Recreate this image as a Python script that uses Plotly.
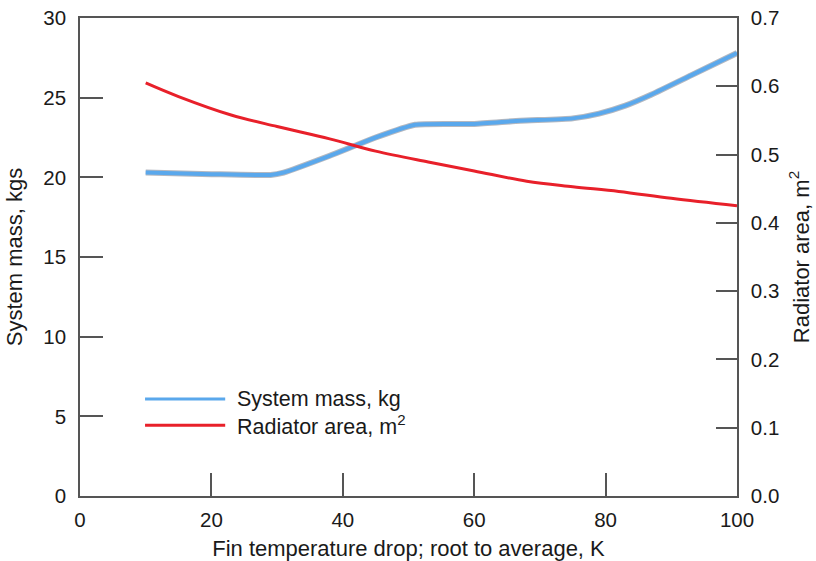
import plotly.graph_objects as go

mass_x = [10, 20, 29, 31, 38, 45, 51, 60, 67, 75, 79, 83, 87, 93, 100]
mass_y = [20.3, 20.2, 20.15, 20.3, 21.35, 22.5, 23.3, 23.35, 23.55, 23.7, 24.0, 24.5, 25.2, 26.4, 27.8]

area_x = [10, 15, 23, 30, 38, 45, 53, 60, 68, 75, 82, 90, 100]
area_y = [0.605, 0.585, 0.558, 0.541, 0.523, 0.505, 0.489, 0.476, 0.461, 0.453, 0.446, 0.436, 0.425]

x_ticks = [0, 20, 40, 60, 80, 100]
left_ticks = [0, 5, 10, 15, 20, 25, 30]
right_ticks = [0.0, 0.1, 0.2, 0.3, 0.4, 0.5, 0.6, 0.7]

FONT = "Liberation Sans, Arial, sans-serif"
AX = "#555555"
BLUE = "#5aa8ec"
RED = "#e8202a"
TXT = "#1a1a1a"
TICKFONT = dict(family=FONT, size=20.5, color=TXT)
TITLEFONT = dict(family=FONT, size=22, color=TXT)

fig = go.Figure()
fig.add_trace(go.Scatter(x=mass_x, y=mass_y, mode="lines", line=dict(color="#b4b8c0", width=6, shape="spline", smoothing=0.5),
                         showlegend=False, hoverinfo="skip"))
fig.add_trace(go.Scatter(x=mass_x, y=mass_y, mode="lines", line=dict(color=BLUE, width=4, shape="spline", smoothing=0.5),
                         name="System mass, kg", showlegend=False))
fig.add_trace(go.Scatter(x=area_x, y=area_y, mode="lines", line=dict(color=RED, width=3, shape="spline", smoothing=1),
                         name="Radiator area, m<sup>2</sup>", yaxis="y2", showlegend=False))

# custom legend
legend_items = [("System mass, kg", BLUE, 0.203), ("Radiator area, m<sup>2</sup>", RED, 0.148)]
for label, col, yy in legend_items:
    fig.add_shape(type="line", xref="paper", yref="paper", x0=0.099, x1=0.221, y0=yy, y1=yy,
                  line=dict(color=col, width=3))
    fig.add_annotation(xref="paper", yref="paper", x=0.236, y=yy, text=label, showarrow=False,
                       xanchor="left", yanchor="middle", font=dict(size=21.5, color=TXT, family=FONT))

fig.update_layout(
    width=816, height=561,
    margin=dict(l=80, r=79, t=18, b=65),
    paper_bgcolor="white", plot_bgcolor="white",
    font=dict(family=FONT, size=20, color=TXT),
    xaxis=dict(range=[0, 100], tickvals=x_ticks, ticks="inside", ticklen=23, tickcolor=AX, tickwidth=1.5,
               tickfont=TICKFONT, ticklabelstandoff=5, automargin=False,
               showline=True, linecolor=AX, linewidth=1.5, mirror=True, showgrid=False, zeroline=False,
               title=dict(text="Fin temperature drop; root to average, K", font=TITLEFONT)),
    yaxis=dict(range=[0, 30], tickvals=left_ticks, ticks="inside", ticklen=23, tickcolor=AX, tickwidth=1.5,
               tickfont=TICKFONT, ticklabelstandoff=8, automargin=False,
               showline=True, linecolor=AX, linewidth=1.5, showgrid=False, zeroline=False,
               title=dict(text="System mass, kgs", font=TITLEFONT)),
    yaxis2=dict(range=[0, 0.7], tickvals=right_ticks, tickformat=".1f", overlaying="y", side="right",
                ticks="inside", ticklen=21, tickcolor=AX, tickwidth=1.5,
                tickfont=TICKFONT, ticklabelstandoff=8, automargin=False,
                showline=True, linecolor=AX, linewidth=1.5, showgrid=False, zeroline=False,
                title=dict(text="Radiator area, m<sup>2</sup>", font=TITLEFONT)),
)

fig.write_html("out.html")
